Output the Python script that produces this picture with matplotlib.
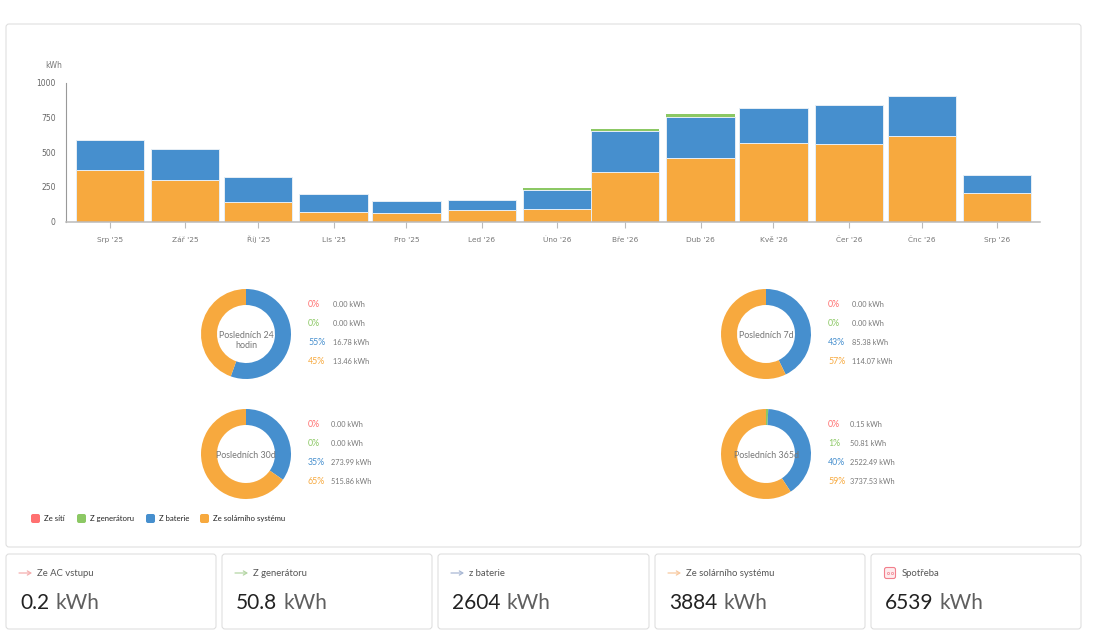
import matplotlib
matplotlib.use('Agg')
import matplotlib.pyplot as plt
import matplotlib.dates as mdates
from matplotlib.patches import FancyBboxPatch
import numpy as np

W, H = 1098, 641

# The chart has a time axis, so months are spaced by their real length
month_starts = ['2025-08-01', '2025-09-01', '2025-10-01', '2025-11-01', '2025-12-01', '2026-01-01', '2026-02-01',
                '2026-03-01', '2026-04-01', '2026-05-01', '2026-06-01', '2026-07-01', '2026-08-01']
months = ["Srp '25", "Zář '25", "Říj '25", "Lis '25", "Pro '25", "Led '26", "Úno '26",
          "Bře '26", "Dub '26", "Kvě '26", "Čer '26", "Čnc '26", "Srp '26"]
solar = [372, 300, 139, 70, 60, 82, 91, 355, 458, 566, 561, 614, 204]
battery = [213, 220, 178, 127, 89, 71, 134, 295, 293, 252, 278, 290, 134]
generator = [0, 0, 0, 0, 0, 0, 15, 12, 19, 0, 0, 0, 0]
y_ticks = [0, 250, 500, 750, 1000]

series_names = ['Ze sítí', 'Z generátoru', 'Z baterie', 'Ze solárního systému']
RED, GREEN, BLUE, ORANGE = '#FF7070', '#8CC864', '#468FCE', '#F7A93E'
colors = [RED, GREEN, BLUE, ORANGE]

donut_titles = ['Posledních 24\nhodin', 'Posledních 7d', 'Posledních 30d', 'Posledních 365d']
donut_values = [[0.00, 0.00, 16.78, 13.46],
                [0.00, 0.00, 85.38, 114.07],
                [0.00, 0.00, 273.99, 515.86],
                [0.15, 50.81, 2522.49, 3737.53]]
donut_percents = [['0%', '0%', '55%', '45%'],
                  ['0%', '0%', '43%', '57%'],
                  ['0%', '0%', '35%', '65%'],
                  ['0%', '1%', '40%', '59%']]

card_labels = ['Ze AC vstupu', 'Z generátoru', 'z baterie', 'Ze solárního systému', 'Spotřeba']
card_numbers = ['0.2', '50.8', '2604', '3884', '6539']
card_arrows = ['#F4AFAF', '#B5D6A5', '#A9B8D4', '#F8C9A0', None]

plt.rcParams['font.family'] = ['Lato', 'DejaVu Sans']
TEXT_GREY = '#777777'


def axes_at(fig, x0, y0, x1, y1):
    # Axes from pixel box, y measured from the top of the picture
    return fig.add_axes([x0 / W, 1 - y1 / H, (x1 - x0) / W, (y1 - y0) / H])


def draw_card(bg, x0, y0, x1, y1):
    bg.add_patch(FancyBboxPatch((x0, y0), x1 - x0, y1 - y0, boxstyle='round,pad=0,rounding_size=3',
                                fc='white', ec='#DDDDDD', lw=0.75))


def draw_bars(fig):
    ax = axes_at(fig, 66, 82.5, 1040, 221.5)
    x = mdates.date2num(month_starts)
    bar_style = dict(width=28.1, edgecolor='#E6EEF5', linewidth=0.7)
    ax.bar(x, solar, color=ORANGE, **bar_style)
    ax.bar(x, battery, bottom=solar, color=BLUE, **bar_style)
    # green slices are only 2 px high, an edge would hide them
    ax.bar(x, generator, bottom=np.add(solar, battery), color=GREEN, width=28.1, linewidth=0, zorder=3)
    ax.set_xlim(x[0] - 18.1, x[0] + 382.7)
    ax.set_ylim(0, 1000)
    ax.set_xticks(x)
    ax.set_xticklabels(months, family='DejaVu Sans', va='baseline')
    ax.set_yticks(y_ticks)
    ax.set_yticklabels(y_ticks, family='DejaVu Sans')
    ax.tick_params(axis='x', length=4.5, width=0.8, color='#BBBBBB', labelsize=5.3, labelcolor=TEXT_GREY, pad=10)
    ax.tick_params(axis='y', length=0, labelsize=5.5, labelcolor='#666666', pad=7.5)
    ax.spines['top'].set_visible(False)
    ax.spines['right'].set_visible(False)
    ax.spines['left'].set_color('#999999')
    ax.spines['left'].set_linewidth(0.8)
    ax.spines['bottom'].set_color('#BBBBBB')
    ax.spines['bottom'].set_linewidth(1.1)
    ax.patch.set_alpha(0)


def draw_donut(fig, bg, cx, cy, title, values, percents, value_x):
    r = 45
    ax = axes_at(fig, cx - r, cy - r, cx + r, cy + r)
    ax.pie(values, colors=colors, startangle=90, counterclock=False, radius=1,
           wedgeprops=dict(width=16 / 45))
    ax.set_xlim(-1, 1)
    ax.set_ylim(-1, 1)
    # first line of the caption stays at the middle of the ring
    ax.text(0, 0.07, title, ha='center', va='top', fontsize=6.4, color=TEXT_GREY, linespacing=1.1)
    for i in range(4):
        row_y = cy - 29.5 + i * 19
        bg.text(cx + 62, row_y, percents[i], color=colors[i], fontsize=6.3, va='center')
        bg.text(value_x, row_y, f'{values[i]:.2f} kWh', color=TEXT_GREY, fontsize=5.3, va='center')


def draw_legend(bg):
    for name, color, sw_x in zip(series_names, colors, [31, 77, 146, 200]):
        bg.add_patch(FancyBboxPatch((sw_x, 514), 9, 9, boxstyle='round,pad=0,rounding_size=2', fc=color, ec='none'))
        bg.text(sw_x + 13, 518.5, name, fontsize=5.6, color='#222222', va='center')


def draw_bottom_cards(fig, bg):
    renderer = fig.canvas.get_renderer()
    boxes = [(6, 216), (222, 432), (438, 649), (655, 865), (871, 1081)]
    for (x0, x1), label, number, arrow in zip(boxes, card_labels, card_numbers, card_arrows):
        draw_card(bg, x0, 554, x1, 629)
        if arrow:
            bg.annotate('', xy=(x0 + 26, 573), xytext=(x0 + 13, 573),
                        arrowprops=dict(arrowstyle='->,head_length=0.25,head_width=0.15', color=arrow, lw=0.9,
                                        shrinkA=0, shrinkB=0))
        else:
            # socket icon for the consumption card
            bg.add_patch(FancyBboxPatch((x0 + 13.5, 567.5), 11, 11, boxstyle='round,pad=0,rounding_size=2',
                                        fc='#FDEBED', ec='#F27F8C', lw=0.8))
            bg.plot([x0 + 17, x0 + 21], [573, 573], ls='none', marker='o', ms=1.6, mfc='none', mew=0.5,
                    color='#F27F8C')
        bg.text(x0 + 31, 573, label, fontsize=6.8, color='#555555', va='center')
        num = bg.text(x0 + 14, 603, number, fontsize=15, color='#222222', va='center')
        right = bg.transData.inverted().transform(num.get_window_extent(renderer))[1][0]
        bg.text(right + 6, 603, 'kWh', fontsize=15, color='#5F5F5F', va='center')


def main():
    fig = plt.figure(figsize=(W / 100, H / 100), dpi=100)

    # Background layer in pixel coordinates for cards, legend and captions
    bg = fig.add_axes([0, 0, 1, 1])
    bg.set_xlim(0, W)
    bg.set_ylim(H, 0)
    bg.axis('off')

    draw_card(bg, 6, 24, 1081, 547)
    bg.text(45, 65, 'kWh', fontsize=5.5, color=TEXT_GREY, va='center', family='DejaVu Sans')

    draw_bars(fig)

    draw_donut(fig, bg, 246, 334, donut_titles[0], donut_values[0], donut_percents[0], 333)
    draw_donut(fig, bg, 766, 334, donut_titles[1], donut_values[1], donut_percents[1], 852)
    draw_donut(fig, bg, 246, 454, donut_titles[2], donut_values[2], donut_percents[2], 331)
    draw_donut(fig, bg, 766, 454, donut_titles[3], donut_values[3], donut_percents[3], 850)

    draw_legend(bg)
    draw_bottom_cards(fig, bg)

    fig.savefig('out.png', dpi=100)
    plt.close(fig)


if __name__ == "__main__":
    main()
